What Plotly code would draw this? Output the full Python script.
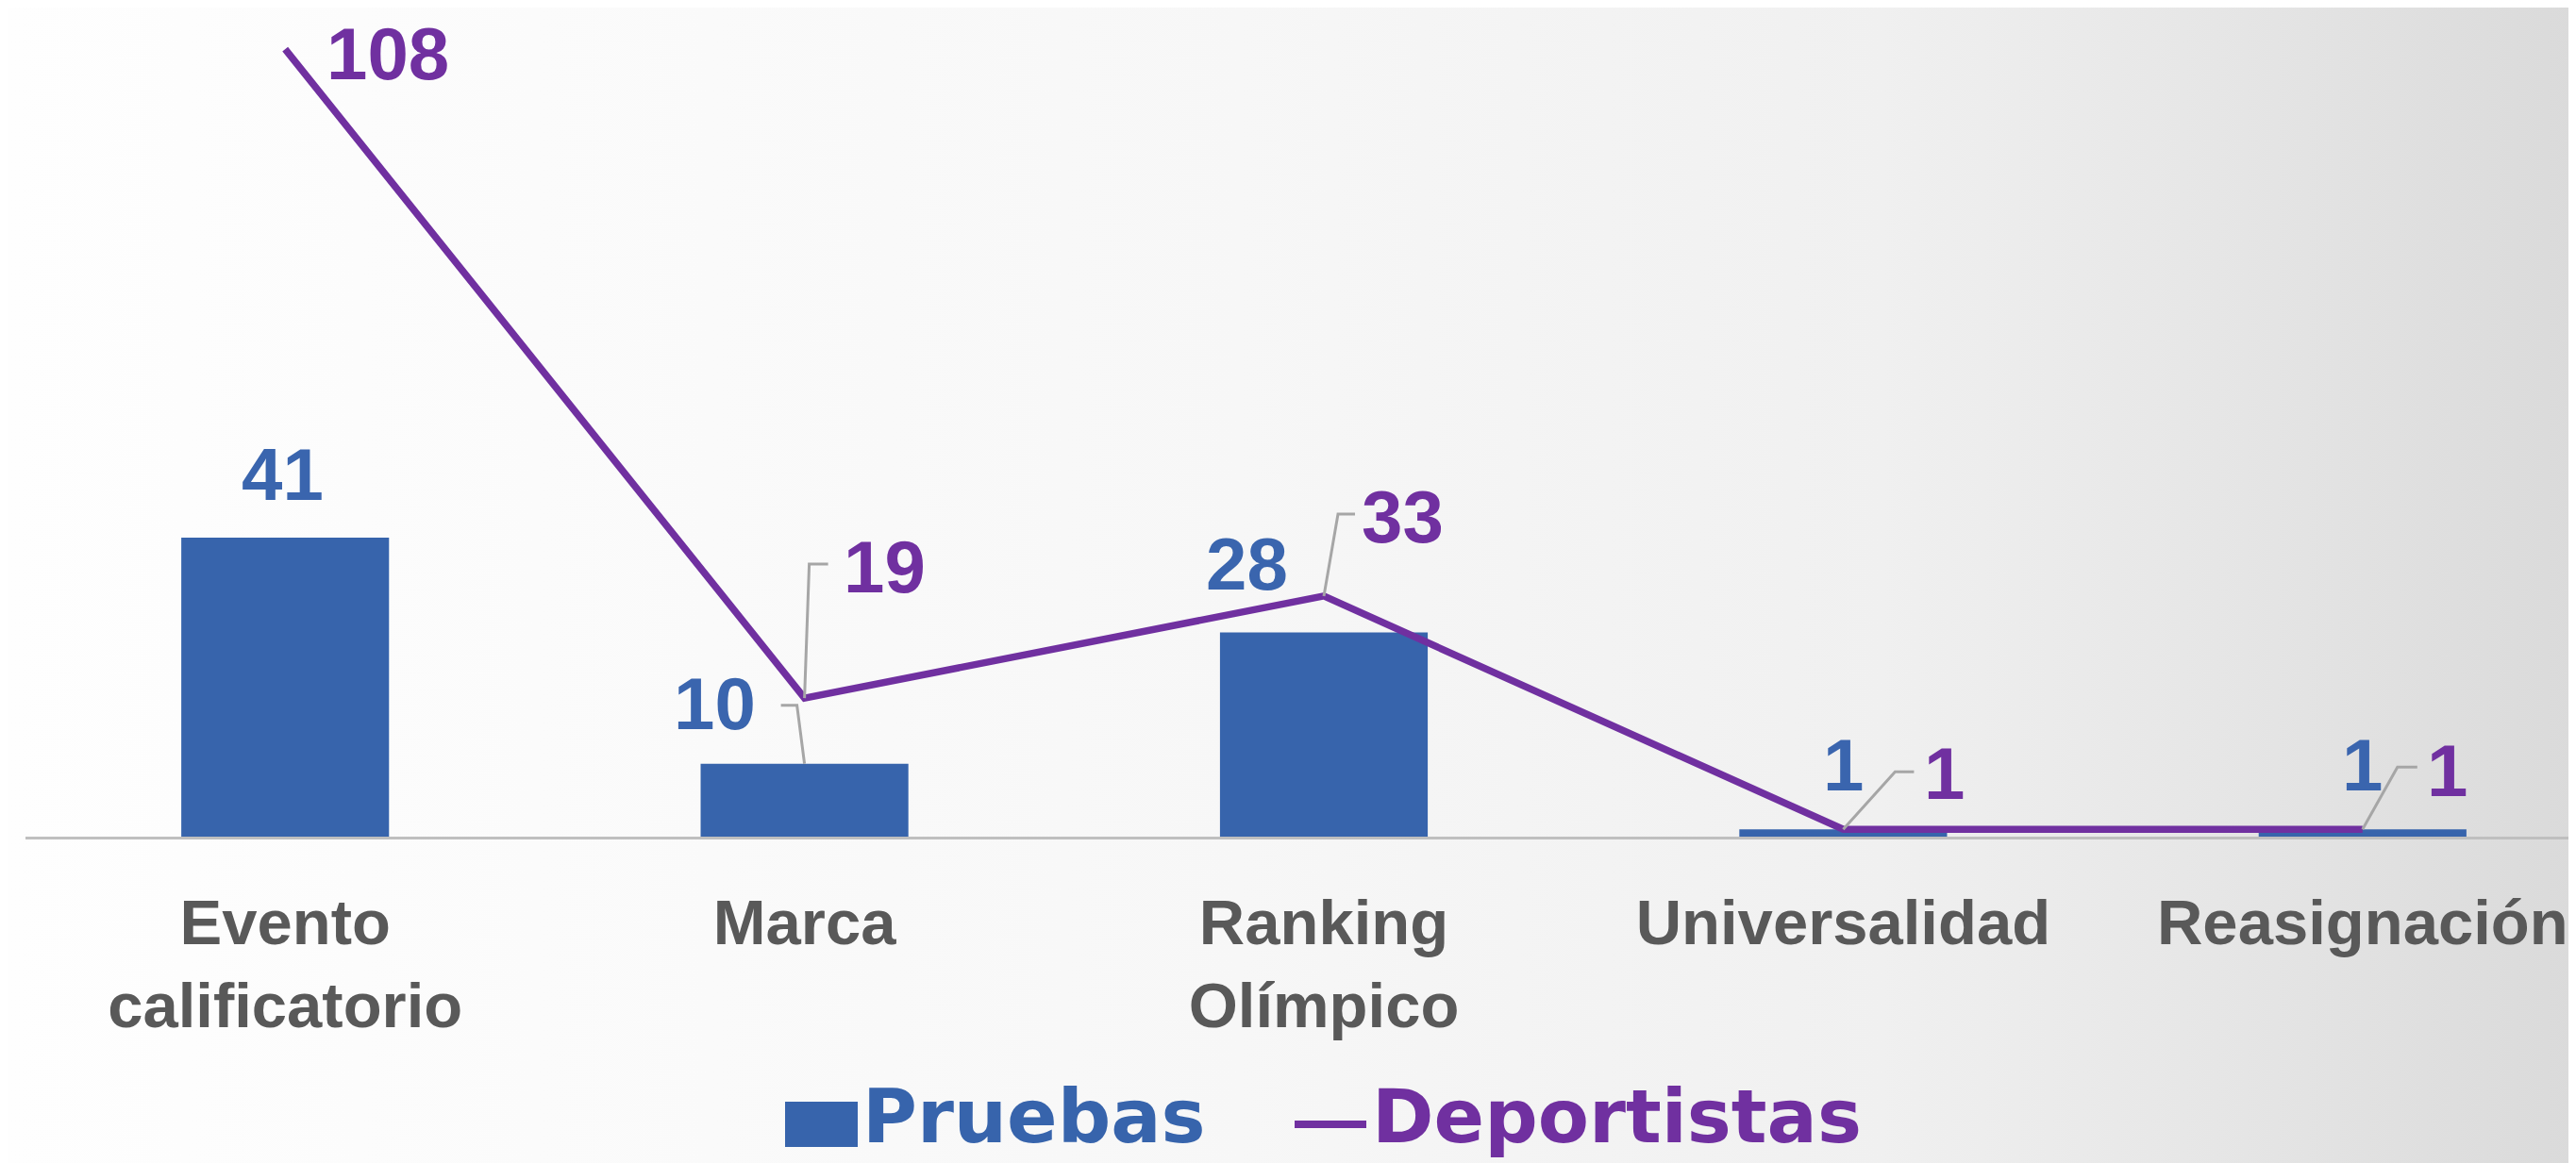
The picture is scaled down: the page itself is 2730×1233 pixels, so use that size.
import base64
import plotly.graph_objects as go

# ---------------- data ----------------
categories = ["Evento calificatorio", "Marca", "Ranking Olímpico", "Universalidad", "Reasignación"]
tick_labels = ["Evento<br>calificatorio", "Marca", "Ranking<br>Olímpico", "Universalidad", "Reasignación"]
pruebas = [41, 10, 28, 1, 1]
deportistas = [108, 19, 33, 1, 1]

# ---------------- style ----------------
OFF = 8                      # default page body margin of the html page
W, H = 2730 - OFF, 1233 - OFF
PL, PR, PT = 27 - OFF, 0, 0
PH = 887 - OFF
PB = H - PT - PH
PW = W - PL - PR
BLUE = "#3764AC"
BLUE_TXT = "#3A65AE"
PURPLE = "#7030A0"
GREY_TXT = "#595959"
LEADER = "#A6A6A6"
PX_PER_UNIT = 7.731
Y_MAX = PH / PX_PER_UNIT
CAT_PX = 550.4
X_MAX = -0.5 + PW / CAT_PX

LABEL_FONT = dict(family="Liberation Sans, Arial, sans-serif", size=78)
TICK_FONT = dict(family="Liberation Sans, Arial, sans-serif", size=67, color=GREY_TXT, weight="bold")
LEG_FONT = "DejaVu Sans, Liberation Sans, sans-serif"

# label offsets (pixels) relative to each data point
pru_shift = [(-3, 67), (-95, 64), (-82, 73), (0, 68), (0, 68)]
dep_shift = [(109, -5), (85, 139), (83, 84), (107, 59), (90, 62)]
# leader paths (pixels, y up) relative to each data point; None = no leader
pru_leader = [None, "M0,0 L-8,62 L-25,62", None, None, None]
dep_leader = [None, "M0,0 L5,142 L25,142", "M0,0 L15,87 L33,87",
              "M0,0 L55,61 L75,61", "M0,0 L37,66 L58,66"]

fig = go.Figure()
fig.add_trace(go.Bar(
    x=categories, y=pruebas, name="Pruebas", marker=dict(color=BLUE, line=dict(width=0)),
    width=0.4, showlegend=False, hoverinfo="x+y"))
fig.add_trace(go.Scatter(
    x=categories, y=deportistas, name="Deportistas", mode="lines",
    line=dict(color=PURPLE, width=7.5), showlegend=False, cliponaxis=False))

annotations = []
shapes = []


def leader(i, yv, path):
    return dict(type="path", xref="x", yref="y", xsizemode="pixel", ysizemode="pixel",
                xanchor=i, yanchor=yv, path=path, line=dict(color=LEADER, width=3), layer="above")


for i, v in enumerate(pruebas):
    dx, dy = pru_shift[i]
    annotations.append(dict(x=i, y=v, xref="x", yref="y", text=f"<b>{v}</b>", showarrow=False,
                            xshift=dx, yshift=dy, font=dict(color=BLUE_TXT, **LABEL_FONT)))
    if pru_leader[i]:
        shapes.append(leader(i, v, pru_leader[i]))
for i, v in enumerate(deportistas):
    dx, dy = dep_shift[i]
    annotations.append(dict(x=i, y=v, xref="x", yref="y", text=f"<b>{v}</b>", showarrow=False,
                            xshift=dx, yshift=dy, font=dict(color=PURPLE, **LABEL_FONT)))
    if dep_leader[i]:
        shapes.append(leader(i, v, dep_leader[i]))


def pxx(x):  # page pixel -> paper
    return (x - OFF - PL) / PW


def pxy(y):
    return (PH - (y - OFF - PT)) / PH


# custom legend (page pixel positions)
shapes.append(dict(type="rect", xref="paper", yref="paper", x0=pxx(832), x1=pxx(909),
                   y0=pxy(1216), y1=pxy(1168), fillcolor=BLUE, line=dict(width=0)))
shapes.append(dict(type="line", xref="paper", yref="paper", x0=pxx(1372), x1=pxx(1448),
                   y0=pxy(1192), y1=pxy(1192), line=dict(color=PURPLE, width=8)))
annotations.append(dict(x=pxx(912), y=pxy(1184), xref="paper", yref="paper", text="<b>Pruebas</b>",
                        showarrow=False, xanchor="left", yanchor="middle",
                        font=dict(family=LEG_FONT, size=79, color=BLUE)))
annotations.append(dict(x=pxx(1452), y=pxy(1184), xref="paper", yref="paper", text="<b>Deportistas</b>",
                        showarrow=False, xanchor="left", yanchor="middle",
                        font=dict(family=LEG_FONT, size=79, color=PURPLE)))

# background gradient
svg = ('<svg xmlns="http://www.w3.org/2000/svg" width="100" height="100" viewBox="0 0 100 100" '
       'preserveAspectRatio="none">'
       '<defs><linearGradient id="g" x1="0" y1="0" x2="1" y2="0">'
       '<stop offset="0" stop-color="#fefefe"/><stop offset="0.48" stop-color="#f7f7f7"/>'
       '<stop offset="0.73" stop-color="#f0f0f0"/><stop offset="0.86" stop-color="#e6e6e6"/>'
       '<stop offset="1" stop-color="#dadada"/></linearGradient></defs>'
       '<rect width="100" height="100" fill="url(#g)"/></svg>')
src = "data:image/svg+xml;base64," + base64.b64encode(svg.encode()).decode()

fig.update_layout(
    width=W, height=H, autosize=False,
    margin=dict(l=PL, r=PR, t=PT, b=PB, pad=0),
    paper_bgcolor="rgba(0,0,0,0)", plot_bgcolor="rgba(0,0,0,0)",
    images=[dict(source=src, xref="paper", yref="paper", x=-PL / PW, y=1 + PT / PH,
                 sizex=W / PW, sizey=H / PH, xanchor="left", yanchor="top",
                 sizing="stretch", layer="below")],
    xaxis=dict(type="category", categoryorder="array", categoryarray=categories,
               tickmode="array", tickvals=categories, ticktext=tick_labels,
               range=[-0.5, X_MAX], showgrid=False, zeroline=False,
               showline=True, linecolor="#BFBFBF", linewidth=3, ticks="",
               tickfont=TICK_FONT, ticklabelstandoff=31, fixedrange=True),
    yaxis=dict(range=[0, Y_MAX], visible=False, fixedrange=True),
    shapes=shapes, annotations=annotations, bargap=0.6, showlegend=False,
)

fig.write_html("out.html", config={"displayModeBar": False})
